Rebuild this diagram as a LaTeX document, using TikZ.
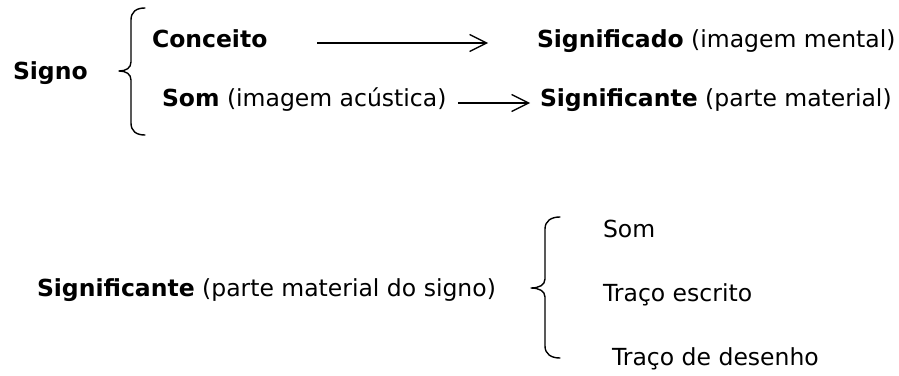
\documentclass[tikz,border=0pt]{standalone}
\usepackage{fontspec}
\setmainfont{DejaVu Sans}
\usetikzlibrary{arrows.meta}
\begin{document}
\begin{tikzpicture}[x=1pt,y=-1pt,
  txt/.style={inner sep=0pt, outer sep=0pt, anchor=base west,
              font=\fontsize{23.5}{28}\selectfont},
  arr/.style={line width=1.3pt,
              -{Straight Barb[length=17pt,width=17pt,line width=1.3pt]}},
  bracestroke/.style={line width=1.4pt, line cap=round, line join=round}]
\useasboundingbox (0,0) rectangle (899,375);

% upper block: the sign and its two faces
\node[txt] (signo)        at (13,79)   {\textbf{Signo}};
\node[txt] (conceito)     at (152,47)  {\textbf{Conceito}};
\node[txt] (significado)  at (537,47)  {\textbf{Significado} (imagem mental)};
\node[txt] (som)          at (162,106) {\textbf{Som} (imagem acústica)};
\node[txt] (significante) at (540,106) {\textbf{Significante} (parte material)};

\draw[arr] ([xshift=50pt,yshift=4pt]conceito.base east)
        -- ([xshift=-49pt,yshift=4pt]significado.base west);
\draw[arr] ([xshift=11.5pt,yshift=3pt]som.base east)
        -- ([xshift=-10pt,yshift=3pt]significante.base west);

% left brace of the upper block
\draw[bracestroke] (145,8) .. controls (136,8) and (131,12) .. (131,20)
  -- (131,62) .. controls (131,68) and (126,71) .. (119,71)
  .. controls (126,71) and (131,74) .. (131,80)
  -- (131,123) .. controls (131,131) and (136,135) .. (145,135);

% lower block: the material part of the sign
\node[txt] (sigmat)   at (37,296)  {\textbf{Significante} (parte material do signo)};
\node[txt] (somb)     at (603,237) {Som};
\node[txt] (tracoesc) at (603,301) {Traço escrito};
\node[txt] (tracodes) at (612,365) {Traço de desenho};

% right-opening brace of the lower block
\draw[bracestroke] (560,217) .. controls (551,217) and (545,221) .. (545,229)
  -- (545,279) .. controls (545,285) and (539,288) .. (531,288)
  .. controls (539,288) and (545,291) .. (545,297)
  -- (545,346) .. controls (545,354) and (551,358) .. (560,358);
\end{tikzpicture}
\end{document}
